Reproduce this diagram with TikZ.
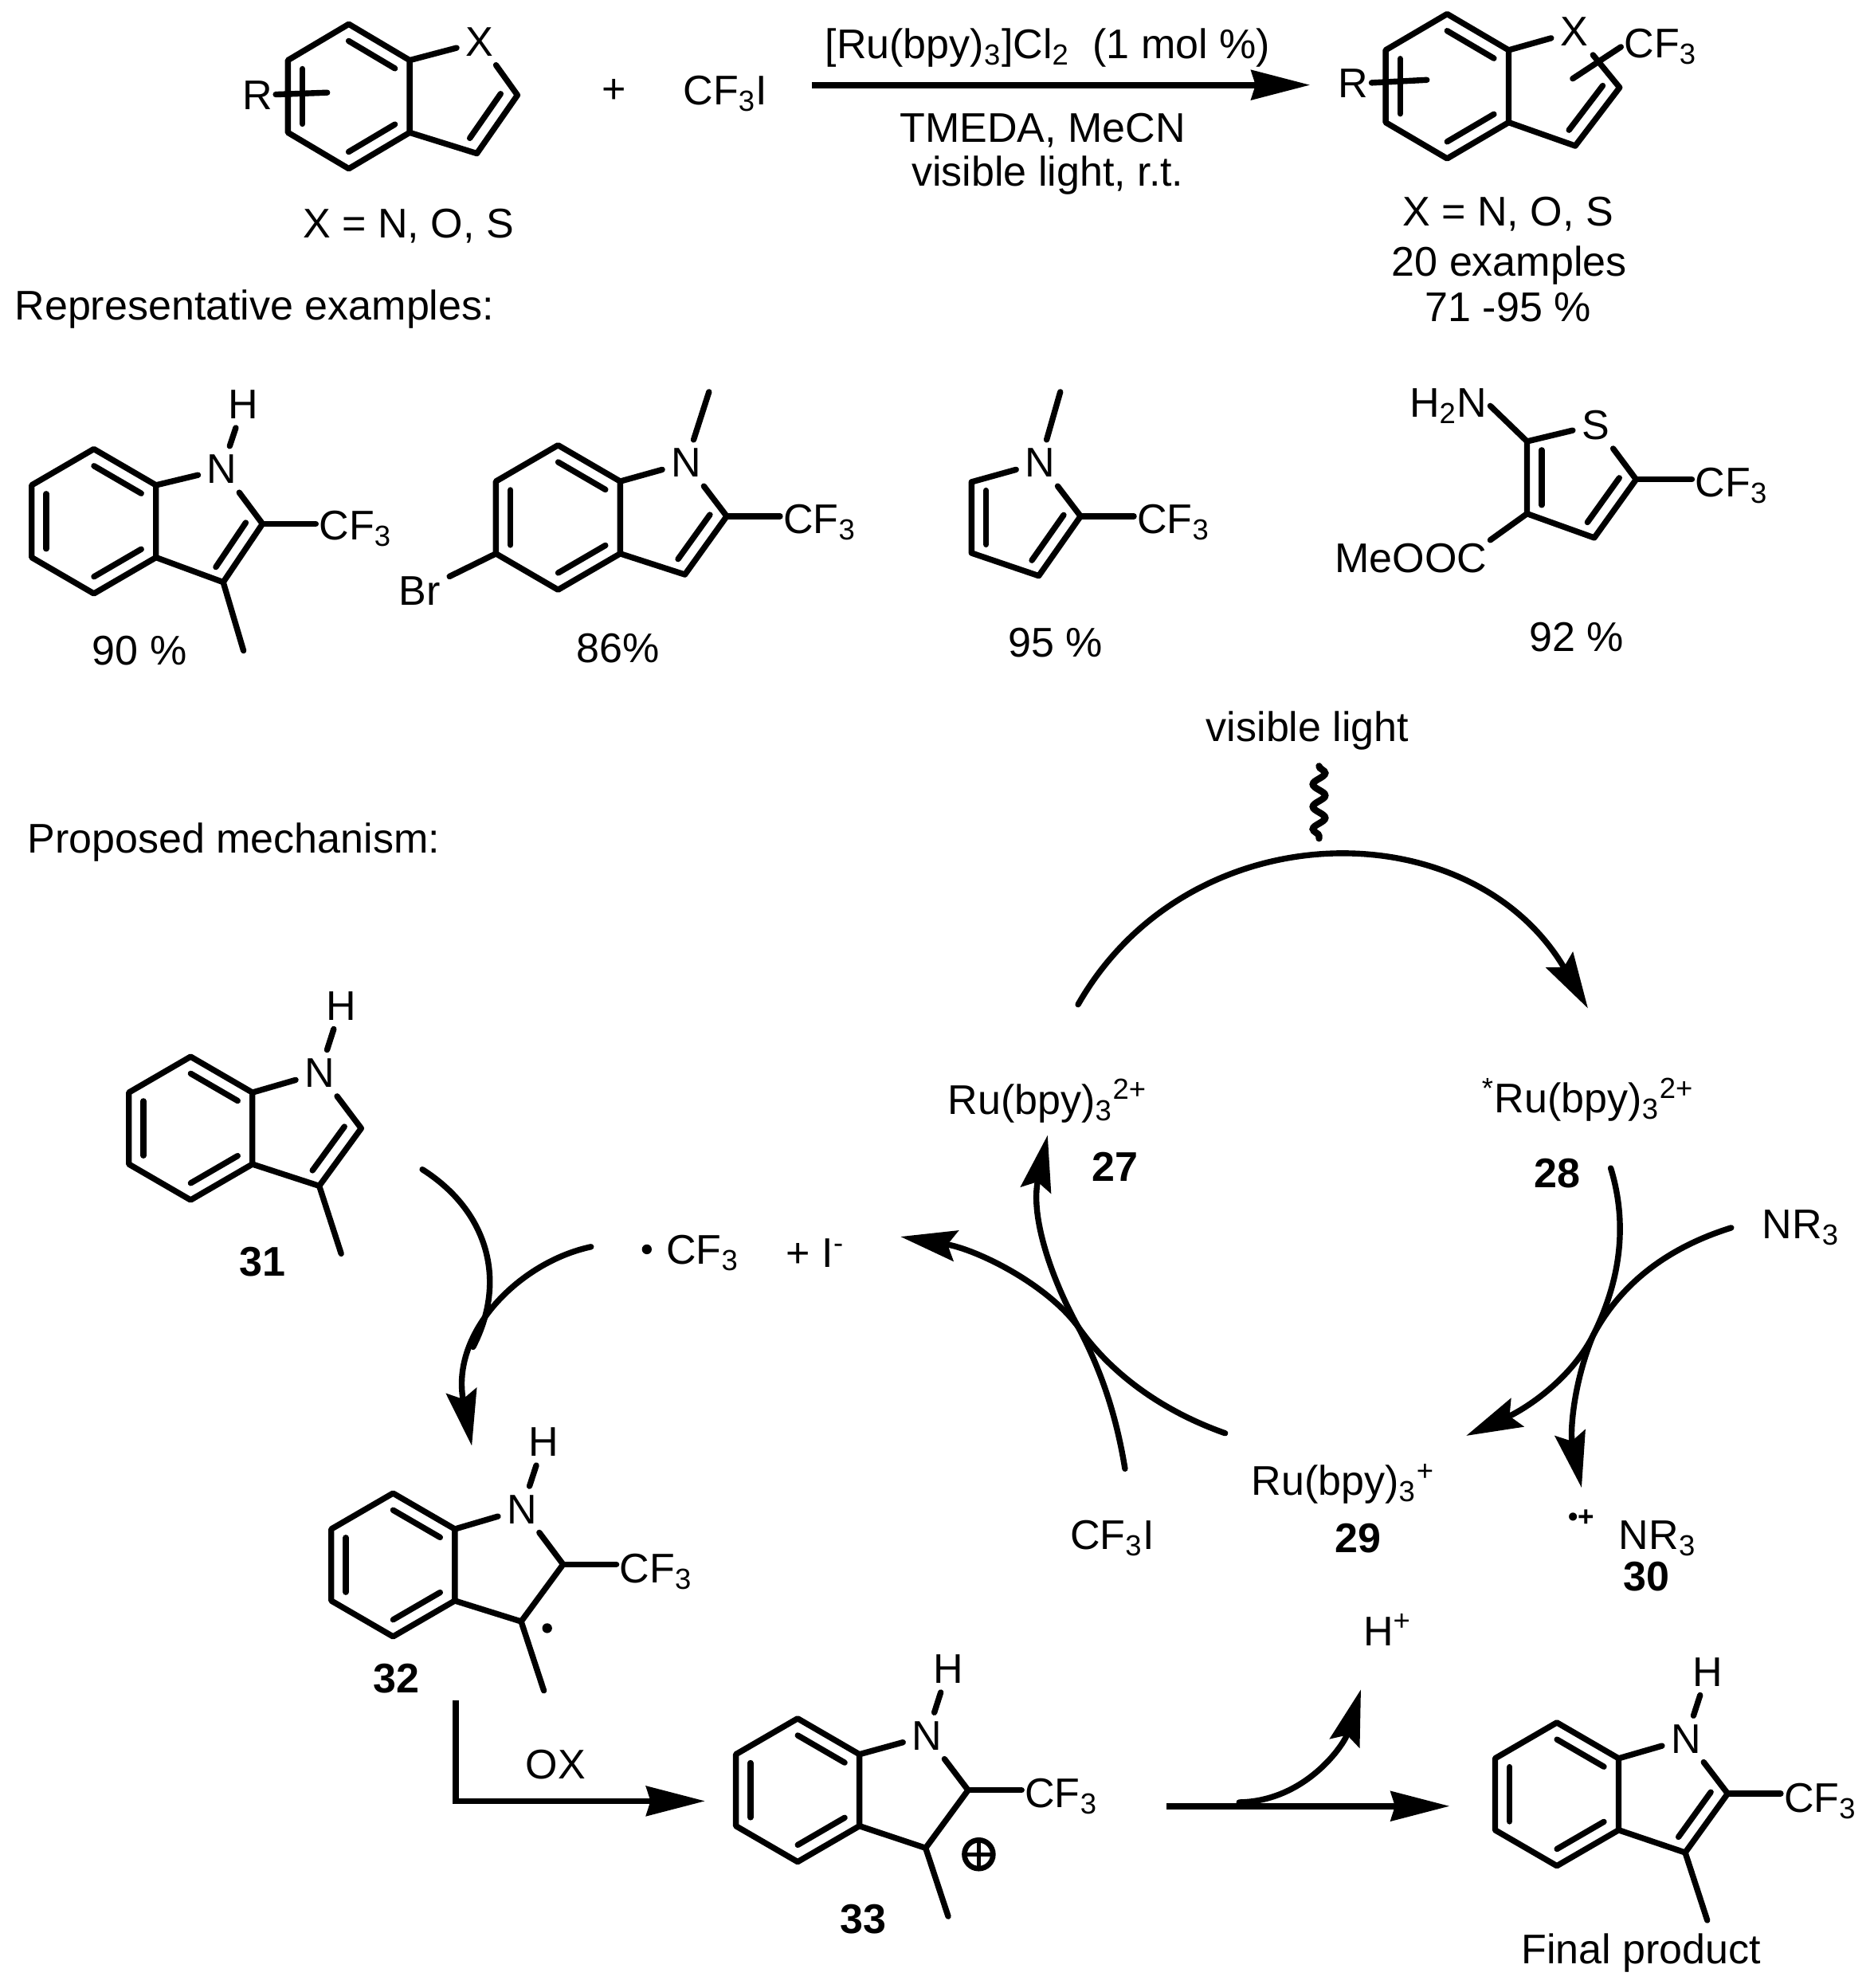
\documentclass[tikz,border=0pt]{standalone}
\usepackage{fontspec}
\setmainfont{Liberation Sans}
\usetikzlibrary{calc,arrows.meta,decorations.pathmorphing}

\newcommand{\subs}[1]{\textsubscript{#1}}
\newcommand{\sups}[1]{\textsuperscript{#1}}
\newcommand{\dbond}[3]{\draw[bond] ($(#1)!.12!(#2)!#3!90:(#2)$) -- ($(#1)!.88!(#2)!#3!90:(#2)$);}
\newcommand{\benzo}[5]{
    \coordinate (#1t) at ($(#2,#3)+(0,-#5)$);
    \coordinate (#1ur) at ($(#2,#3)+(#4,-#5/2)$);
    \coordinate (#1lr) at ($(#2,#3)+(#4,#5/2)$);
    \coordinate (#1b) at ($(#2,#3)+(0,#5)$);
    \coordinate (#1ll) at ($(#2,#3)+(-#4,#5/2)$);
    \coordinate (#1ul) at ($(#2,#3)+(-#4,-#5/2)$);
    \draw[bond] (#1t) -- (#1ur) -- (#1lr) -- (#1b) -- (#1ll) -- (#1ul) -- cycle;
    \dbond{#1t}{#1ur}{-5.2pt}
    \dbond{#1lr}{#1b}{-5.2pt}
    \dbond{#1ll}{#1ul}{-5.2pt}
}

\begin{document}
\begin{tikzpicture}[
    x=0.015918cm, y=-0.015918cm,
    every node/.style={font=\fontsize{14.8}{17}\selectfont, inner sep=1pt},
    atom/.style={inner sep=3pt},
    cpdno/.style={font=\fontsize{14.8}{17}\selectfont\bfseries},
    bond/.style={line width=2.1pt, line cap=round, line join=round},
    rxn/.style={line width=2.2pt, -{Stealth[length=21pt,width=10.5pt,inset=1.5pt]}},
    cyc/.style={line width=2.1pt, line cap=round, -{Stealth[length=20pt,width=11pt,inset=3pt]}},
    ]
    \useasboundingbox (0,0) rectangle (1477,1567.4);

    \benzo{a}{275}{76}{48}{57}
    \node[atom] (aX) at (378,33) {X};
    \coordinate (aC2) at (408,75);
    \coordinate (aC3) at (376,121);
    \node (aR) at (203,75) {R};
    \coordinate (aRs) at (258,73);
    \draw[bond] (aur) -- (aX) -- (aC2) -- (aC3) -- (alr);
    \dbond{aC2}{aC3}{-5.2pt}
    \draw[bond] (aR) -- (aRs);
    \node (aplus) at (484,72) {+};
    \node (acf) at (572,74) {CF\subs{3}I};
    \node (acap) at (322,178) {X = N, O, S};

    \coordinate (r1) at (640,67);
    \coordinate (r2) at (1033,67);
    \draw[rxn] (r1) -- (r2);
    \node (rtop) at (826,38) {[Ru(bpy)\subs{3}]Cl\subs{2}\ \ (1 mol \%)};
    \node (rmid) at (822,103) {TMEDA, MeCN};
    \node (rbot) at (826,138) {visible light, r.t.};

    \benzo{b}{1141}{68}{48.5}{57}
    \node[atom] (bX) at (1241,25) {X};
    \coordinate (bC2) at (1277,69);
    \coordinate (bC3) at (1242,115);
    \node (bR) at (1067,66) {R};
    \coordinate (bRs) at (1125,63);
    \node[anchor=west] (bcf) at (1278,37) {CF\subs{3}};
    \coordinate (bcs) at (1240,62);
    \draw[bond] (bur) -- (bX) -- (bC2) -- (bC3) -- (blr);
    \dbond{bC2}{bC3}{-5.2pt}
    \draw[bond] (bR) -- (bRs);
    \draw[bond] (bcf.west) -- (bcs);
    \node (bcap1) at (1189,169) {X = N, O, S};
    \node (bcap2) at (1190,209) {20 examples};
    \node (bcap3) at (1189,242) {71 -95 \%};

    \node[anchor=west] (rep) at (9,244) {Representative examples:};

    \benzo{c}{74}{411}{49}{57}
    \node[atom] (cN) at (175,370) {N};
    \node[atom] (cH) at (192,319) {H};
    \coordinate (cC2) at (207,413);
    \coordinate (cC3) at (176,459);
    \coordinate (cMe) at (192,513);
    \node[anchor=west] (ccf) at (249,417) {CF\subs{3}};
    \draw[bond] (cN) -- (cH);
    \draw[bond] (cur) -- (cN) -- (cC2) -- (cC3) -- (clr);
    \dbond{cC2}{cC3}{-5.2pt}
    \draw[bond] (cC3) -- (cMe);
    \draw[bond] (cC2) -- (ccf.west |- cC2);
    \node (cy) at (110,513) {90 \%};

    \benzo{d}{440}{408}{49}{57}
    \node[atom] (dN) at (541,365) {N};
    \coordinate (dMe) at (559,309);
    \coordinate (dC2) at (573,407);
    \coordinate (dC3) at (540,453);
    \node[anchor=west] (dcf) at (615,412) {CF\subs{3}};
    \node[atom] (dBr) at (331,466) {Br};
    \draw[bond] (dN) -- (dMe);
    \draw[bond] (dur) -- (dN) -- (dC2) -- (dC3) -- (dlr);
    \dbond{dC2}{dC3}{-5.2pt}
    \draw[bond] (dC2) -- (dcf.west |- dC2);
    \draw[bond] (dll) -- (dBr);
    \node (dy) at (487,511) {86\%};

    \node[atom] (eN) at (820,365) {N};
    \coordinate (eMe) at (836,309);
    \coordinate (elt) at (766,380);
    \coordinate (elb) at (766,436);
    \coordinate (eC3) at (819,454);
    \coordinate (eC2) at (852,407);
    \node[anchor=west] (ecf) at (894,412) {CF\subs{3}};
    \draw[bond] (eN) -- (eMe);
    \draw[bond] (eN) -- (elt) -- (elb) -- (eC3) -- (eC2) -- (eN);
    \dbond{elb}{elt}{-5.2pt}
    \dbond{eC2}{eC3}{-5.2pt}
    \draw[bond] (eC2) -- (ecf.west |- eC2);
    \node (ey) at (832,507) {95 \%};

    \node[atom] (fS) at (1258,335) {S};
    \coordinate (fC2) at (1204,348);
    \coordinate (fC3) at (1204,405);
    \coordinate (fC4) at (1257,424);
    \coordinate (fC5) at (1290,378);
    \node[anchor=east] (fNH) at (1175,320) {H\subs{2}N};
    \node[anchor=east] (fCO) at (1175,440) {MeOOC};
    \node[anchor=west] (fcf) at (1334,383) {CF\subs{3}};
    \draw[bond] (fC2) -- (fS) -- (fC5) -- (fC4) -- (fC3) -- (fC2);
    \dbond{fC3}{fC2}{-5.2pt}
    \dbond{fC5}{fC4}{-5.2pt}
    \draw[bond] (fC5) -- (fcf.west |- fC5);
    \draw[bond] (fC2) -- (fNH.east);
    \draw[bond] (fC3) -- (fCO.north east);
    \node (fy) at (1243,502) {92 \%};

    \node (vis) at (1031,576) {visible light};
    \coordinate (wv1) at (1040,604);
    \coordinate (wv2) at (1040,661);
    \draw[line width=2.4pt, line cap=round, decorate, decoration={snake, amplitude=2.2pt, segment length=8pt}] (wv1) -- (wv2);

    \node[anchor=west] (mech) at (19,664) {Proposed mechanism:};

    \node (n27) at (826,868) {Ru(bpy)\subs{3}\sups{2+}};
    \node[cpdno] (l27) at (879,920) {27};
    \node (n28) at (1252,867) {\sups{*}Ru(bpy)\subs{3}\sups{2+}};
    \node[cpdno] (l28) at (1228,925) {28};
    \node (n29) at (1059,1170) {Ru(bpy)\subs{3}\sups{+}};
    \node[cpdno] (l29) at (1071,1213) {29};
    \node (n30) at (1307,1213) {NR\subs{3}};
    \node[font=\fontsize{10}{10}\selectfont\bfseries] (n30d) at (1247,1197) {\textbullet+};
    \node[cpdno] (l30) at (1298,1243) {30};
    \node (nNR) at (1420,968) {NR\subs{3}};
    \node (nCFI) at (877,1213) {CF\subs{3}I};
    \node (nrad) at (554,988) {CF\subs{3}};
    \node[circle, fill=black, minimum size=3.5pt, inner sep=0pt] (nradd) at (510,985) {};
    \node (nI) at (643,988) {+ I\sups{-}};

    \coordinate (c1) at (850,792);
    \coordinate (c2) at (1252,795);
    \draw[cyc] (c1) .. controls (938,638) and (1160,638) .. (c2);

    \coordinate (c3) at (1270,921);
    \coordinate (c4) at (1156,1132);
    \coordinate (cm2) at (1256,1053);
    \draw[cyc] (c3) .. controls (1285,970) and (1275,1015) .. (cm2) .. controls (1237,1090) and (1200,1112) .. (c4);
    \coordinate (c5) at (1365,968);
    \coordinate (c6) at (1247,1173);
    \draw[cyc] (c5) .. controls (1320,982) and (1280,1008) .. (cm2) .. controls (1240,1092) and (1238,1130) .. (c6);

    \coordinate (c7) at (966,1130);
    \coordinate (c8) at (710,975);
    \coordinate (cm1) at (850,1046);
    \draw[cyc] (c7) .. controls (915,1112) and (875,1082) .. (cm1) .. controls (825,1012) and (770,985) .. (c8);
    \coordinate (c9) at (887,1158);
    \coordinate (c10) at (826,895);
    \draw[cyc] (c9) .. controls (880,1115) and (868,1080) .. (cm1) .. controls (830,1010) and (812,960) .. (c10);

    \benzo{g}{150.3}{889.6}{48.7}{56.5}
    \node[atom] (gN) at (252,846) {N};
    \node[atom] (gH) at (269,793) {H};
    \coordinate (gC2) at (284.8,889.6);
    \coordinate (gC3) at (251.7,935);
    \coordinate (gMe) at (269,988.4);
    \draw[bond] (gN) -- (gH);
    \draw[bond] (gur) -- (gN) -- (gC2) -- (gC3) -- (glr);
    \dbond{gC2}{gC3}{-5.2pt}
    \draw[bond] (gC3) -- (gMe);
    \node[cpdno] (l31) at (206.7,994.6) {31};

    \coordinate (d1) at (333,922);
    \coordinate (d2) at (373,1062);
    \draw[bond, line width=2.1pt] (d1) .. controls (385,955) and (400,1010) .. (d2);
    \coordinate (d3) at (466,983);
    \coordinate (d4) at (372,1140);
    \draw[cyc] (d3) .. controls (410,995) and (355,1050) .. (d4);

    \benzo{h}{309.9}{1233.8}{48.7}{56.5}
    \node[atom] (hN) at (411.5,1190) {N};
    \node[atom] (hH) at (428.8,1137) {H};
    \coordinate (hC2) at (444,1233.4);
    \coordinate (hC3) at (410.9,1278.4);
    \coordinate (hMe) at (428.8,1332.9);
    \node[anchor=west] (hcf) at (486,1239) {CF\subs{3}};
    \node[circle, fill=black, minimum size=3.5pt, inner sep=0pt] (hdot) at (431.4,1283.7) {};
    \draw[bond] (hN) -- (hH);
    \draw[bond] (hur) -- (hN) -- (hC2) -- (hC3) -- (hlr);
    \draw[bond] (hC3) -- (hMe);
    \draw[bond] (hC2) -- (hcf.west |- hC2);
    \node[cpdno] (l32) at (312.6,1323.5) {32};

    \coordinate (o1) at (359.5,1340.7);
    \coordinate (o2) at (359.5,1420);
    \coordinate (o3) at (556,1420);
    \draw[rxn] (o1) -- (o2) -- (o3);
    \node (oxl) at (438,1391) {OX};

    \benzo{k}{628.9}{1411.4}{48.7}{56.5}
    \node[atom] (kN) at (730.8,1368.5) {N};
    \node[atom] (kH) at (747.6,1316) {H};
    \coordinate (kC2) at (763.3,1411.4);
    \coordinate (kC3) at (729.8,1457);
    \coordinate (kMe) at (747.6,1510.9);
    \node[anchor=west] (kcf) at (805.5,1416) {CF\subs{3}};
    \node[circle, draw, line width=1.9pt, minimum size=10.2pt, inner sep=0pt, path picture={\draw[line width=1.5pt] (path picture bounding box.north) -- (path picture bounding box.south) (path picture bounding box.west) -- (path picture bounding box.east);}] (kplus) at (771.7,1462) {};
    \draw[bond] (kN) -- (kH);
    \draw[bond] (kur) -- (kN) -- (kC2) -- (kC3) -- (klr);
    \draw[bond] (kC3) -- (kMe);
    \draw[bond] (kC2) -- (kcf.west |- kC2);
    \node[cpdno] (l33) at (680.8,1513) {33};

    \coordinate (p1) at (920,1424);
    \coordinate (p2) at (1143,1424);
    \draw[rxn] (p1) -- (p2);
    \coordinate (p3) at (977,1421);
    \coordinate (p4) at (1073,1332);
    \draw[cyc] (p3) .. controls (1030,1420) and (1060,1375) .. (p4);
    \node (hp) at (1094,1285) {H\sups{+}};

    \benzo{m}{1227.5}{1414.6}{48.7}{56.5}
    \node[atom] (mN) at (1329.3,1371) {N};
    \node[atom] (mH) at (1346.4,1318.2) {H};
    \coordinate (mC2) at (1362.2,1414.1);
    \coordinate (mC3) at (1328.7,1460.6);
    \coordinate (mMe) at (1346.1,1514);
    \node[anchor=west] (mcf) at (1404,1420) {CF\subs{3}};
    \draw[bond] (mN) -- (mH);
    \draw[bond] (mur) -- (mN) -- (mC2) -- (mC3) -- (mlr);
    \dbond{mC2}{mC3}{-5.2pt}
    \draw[bond] (mC3) -- (mMe);
    \draw[bond] (mC2) -- (mcf.west |- mC2);
    \node (fin) at (1294,1539.5) {Final product};
\end{tikzpicture}
\end{document}
